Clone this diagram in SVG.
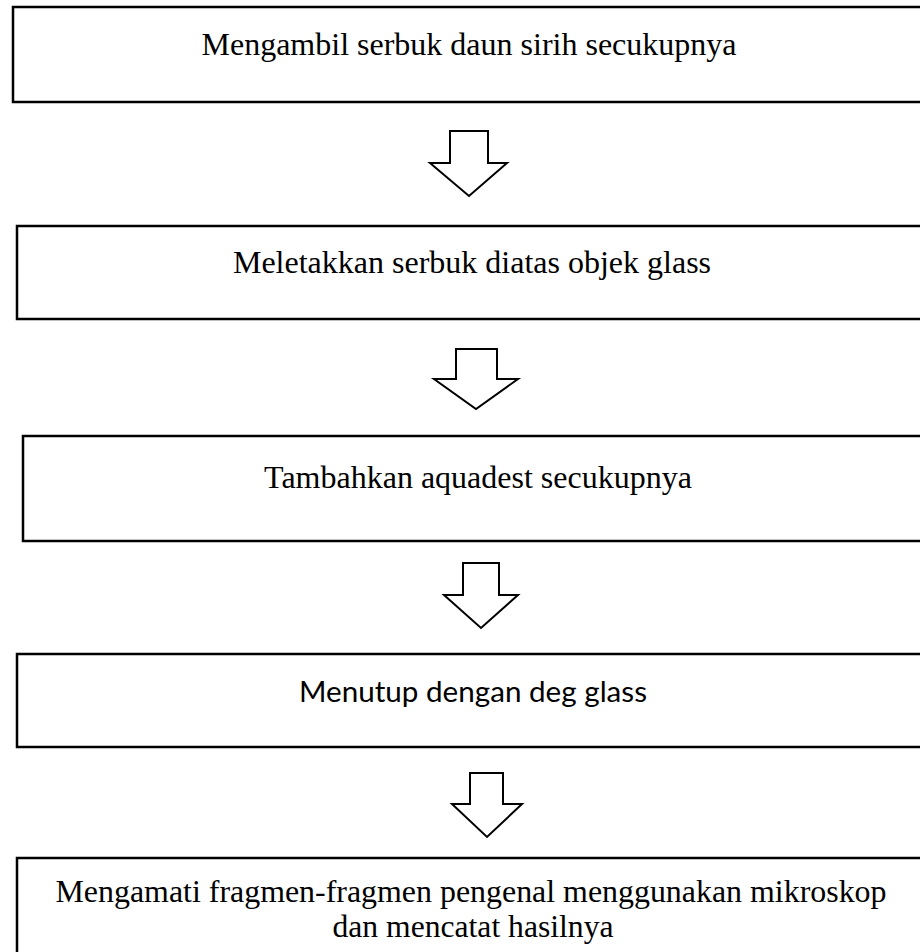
<svg xmlns="http://www.w3.org/2000/svg" width="920" height="952" viewBox="0 0 920 952">
<style>
.box{fill:#fff;stroke:#000;stroke-width:2.5}
.arr{fill:#fff;stroke:#000;stroke-width:2;stroke-linejoin:miter}
.t{font-family:"Liberation Serif","Times New Roman",serif;font-size:32px;fill:#000;text-anchor:middle}
.t5{font-family:"Liberation Serif","Times New Roman",serif;font-size:31px;fill:#000;text-anchor:middle}
.s{font-family:Lato,"Open Sans","Liberation Sans",sans-serif;font-size:28px;fill:#000;text-anchor:middle}
</style>
<rect width="920" height="952" fill="#fff"/>
<g id="n1"><rect class="box" x="13" y="7" width="930" height="95"/><text class="t" x="469" y="55">Mengambil serbuk daun sirih secukupnya</text></g>
<g id="n2"><rect class="box" x="17" y="226" width="930" height="93"/><text class="t" x="472" y="273">Meletakkan serbuk diatas objek glass</text></g>
<g id="n3"><rect class="box" x="23" y="436" width="930" height="105"/><text class="t" x="478" y="488">Tambahkan aquadest secukupnya</text></g>
<g id="n4"><rect class="box" x="17" y="654" width="930" height="93"/><text class="s" x="473" y="702" textLength="348" lengthAdjust="spacingAndGlyphs">Menutup dengan deg glass</text></g>
<g id="n5"><rect class="box" x="17" y="858" width="930" height="120"/><text class="t5" x="471" y="902" textLength="831" lengthAdjust="spacingAndGlyphs">Mengamati fragmen-fragmen pengenal menggunakan mikroskop</text><text class="t5" x="473" y="937" textLength="281" lengthAdjust="spacingAndGlyphs">dan mencatat hasilnya</text></g>
<g id="connectors">
<polygon class="arr" points="450,131 488,131 488,163 507,163 469,196 430,163 450,163"/>
<polygon class="arr" points="456,349 497,349 497,379 518,379 476,409 434,379 456,379"/>
<polygon class="arr" points="463,563 499,563 499,595 518,595 481,628 444,595 463,595"/>
<polygon class="arr" points="470,773 503,773 503,804 522,804 487,837 452,804 470,804"/>
</g>
</svg>
